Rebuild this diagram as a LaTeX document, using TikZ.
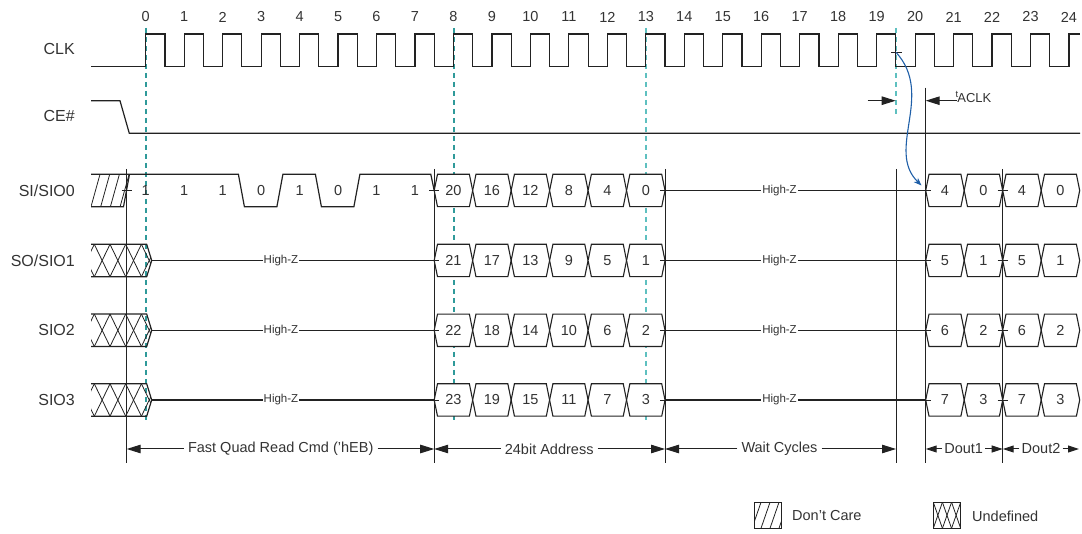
\documentclass[tikz,border=0pt]{standalone}
\usepackage{fontspec}
\setmainfont{Liberation Sans}
\usetikzlibrary{arrows.meta}
\definecolor{tealA}{HTML}{2F9A9A}
\definecolor{tealB}{HTML}{5EC0C0}
\definecolor{arcblue}{HTML}{1F5FA8}
\definecolor{ink}{HTML}{222222}
\definecolor{txt}{HTML}{333333}
\newcommand\nfnt{\fontsize{14.5}{16}\selectfont}
\newcommand\lfnt{\fontsize{16}{18}\selectfont}
\newcommand\hfnt{\fontsize{11.5}{13}\selectfont}
\begin{document}
\begin{tikzpicture}[x=1pt,y=-1pt,
  sig/.style={draw=ink,line width=1.2pt,line join=miter},
  bus/.style={draw=ink,line width=1.1pt,fill=white},
  thin/.style={draw=ink,line width=0.8pt},
  vline/.style={draw=ink,line width=0.9pt},
  dashA/.style={draw=tealA,dash pattern=on 5pt off 4pt,line width=1.6pt},
  dashB/.style={draw=tealB,dash pattern=on 5pt off 4pt,line width=1.7pt},
  lbl/.style={font=\lfnt,text=txt,anchor=east,inner sep=0pt},
  num/.style={font=\nfnt,text=txt,inner sep=0pt},
  hz/.style={font=\hfnt,text=txt,fill=white,inner sep=1pt},
  dimt/.style={font=\nfnt,text=txt,inner sep=4pt},
  dim/.style={draw=ink,line width=1pt,-{Triangle[length=14pt,width=8.5pt]}},
  dims/.style={draw=ink,line width=1pt,-{Triangle[length=11pt,width=7pt]}}
]
\useasboundingbox (0,0) rectangle (1082,534);

% ---- signal names
\node[lbl] (nCLK) at (75,49.3) {CLK};
\node[lbl] (nCE) at (75,116) {CE\#};
\node[lbl] (nS0) at (75,191) {SI/SIO0};
\node[lbl] (nS1) at (75,260.5) {SO/SIO1};
\node[lbl] (nS2) at (75,330.3) {SIO2};
\node[lbl] (nS3) at (75,400) {SIO3};

% ---- cycle numbers
\foreach \k in {0,...,24}
  \node[num] (c\k) at ({145.7+38.47*\k},17) {\k};

% ---- dashed reference lines
\draw[dashA] (145.7,28) -- (145.7,423);
\draw[dashA] (453.7,28) -- (453.7,423);
\draw[dashB] (646,28) -- (646,423);
\draw[dashB] (896,28) -- (896,115);

% ---- solid vertical lines
\foreach \x in {126.7,434.2,665,896,1002.7}
  \draw[vline] (\x,169) -- (\x,463);
\draw[vline] (925.7,87.7) -- (925.7,463);

% ---- CLK
\draw[sig] (91,66.7) foreach \k in {0,...,23} {
   -- ({145.7+38.47*\k},66.7) -- ({145.7+38.47*\k},34)
   -- ({164.93+38.47*\k},34) -- ({164.93+38.47*\k},66.7) }
   -- (1069,66.7) -- (1069,34) -- (1080,34);

% ---- CE#
\draw[sig] (91,100.7) -- (120,100.7) -- (129.3,133.3) -- (1080,133.3);

% ---- SI/SIO0 don't care
\begin{scope}
  \clip (91,174.3) -- (129.5,174.3) -- (123.5,206.7) -- (91,206.7) -- cycle;
  \foreach \i in {-1,...,4}
    \draw[thin] ({91+9.7*\i},206.7) -- ({100+9.7*\i},174.3);
\end{scope}
\draw[sig] (91,206.7) -- (123.5,206.7) -- (129.5,174.3);
% command waveform 'hEB
\draw[sig] (91,174.3) -- (238.4,174.3) -- (244.4,206.7) -- (276.9,206.7)
  -- (282.9,174.3) -- (315.4,174.3) -- (321.4,206.7) -- (353.9,206.7)
  -- (359.9,174.3) -- (430.8,174.3) -- (434.2,190.5);
\foreach \k/\b in {0/1,1/1,2/1,3/0,4/1,5/0,6/1,7/1}
  \node[num] (b\k) at ({145.7+38.47*\k},190.5) {\b};
\draw[thin] (121.5,190.5) -- (131.5,190.5);

% ---- undefined regions on SIO1..3
\foreach \r/\ym in {1/260.5,2/330.3,3/400} {
  \begin{scope}
    \clip (91,{\ym-16.2}) -- (146.7,{\ym-16.2}) -- (151.7,\ym) -- (146.7,{\ym+16.2}) -- (91,{\ym+16.2}) -- cycle;
    \foreach \i in {-1,...,4} {
      \draw[thin] ({94.3+15.7*\i},{\ym-16.2}) -- ({110+15.7*\i},{\ym+16.2});
      \draw[thin] ({110+15.7*\i},{\ym-16.2}) -- ({94.3+15.7*\i},{\ym+16.2});
    }
  \end{scope}
  \draw[sig] (91,{\ym-16.2}) -- (146.7,{\ym-16.2}) -- (151.7,\ym) -- (146.7,{\ym+16.2}) -- (91,{\ym+16.2});
  \draw[sig] (151.7,\ym) -- (434.2,\ym);
  \node[hz] (hza\r) at (281,\ym) {High-Z};
}

% ---- wait cycles high-Z
\foreach \r/\ym in {0/190.5,1/260.5,2/330.3,3/400} {
  \draw[sig] (665,\ym) -- (925.7,\ym);
  \node[hz] (hzb\r) at (779.5,\ym) {High-Z};
}

% ---- address nibbles
\foreach \r/\ym in {0/190.5,1/260.5,2/330.3,3/400} {
  \foreach \j in {0,...,5} {
    \pgfmathsetmacro\xa{434.2+38.47*\j}
    \pgfmathsetmacro\xb{\xa+38.47}
    \pgfmathtruncatemacro\v{20+\r-4*\j}
    \draw[bus] (\xa,\ym) -- ({\xa+3.3},{\ym-16.2}) -- ({\xb-3.3},{\ym-16.2}) -- (\xb,\ym)
       -- ({\xb-3.3},{\ym+16.2}) -- ({\xa+3.3},{\ym+16.2}) -- cycle;
    \node[num] (a\r\j) at ({(\xa+\xb)/2},\ym) {\v};
  }
  % data out
  \foreach \j/\w in {0/4,1/0,2/4,3/0} {
    \pgfmathsetmacro\xa{925.7+38.5*\j}
    \pgfmathsetmacro\xb{\xa+38.5}
    \pgfmathtruncatemacro\v{\w+\r}
    \draw[bus] (\xa,\ym) -- ({\xa+3.3},{\ym-16.2}) -- ({\xb-3.3},{\ym-16.2}) -- (\xb,\ym)
       -- ({\xb-3.3},{\ym+16.2}) -- ({\xa+3.3},{\ym+16.2}) -- cycle;
    \node[num] (o\r\j) at ({(\xa+\xb)/2},\ym) {\v};
  }
  \foreach \x in {434.2,665,925.7,1002.7}
    \draw[thin] ({\x-5},\ym) -- ({\x+5},\ym);
}

% ---- tACLK
\coordinate (fe19) at (896,52.3);
\draw[thin] (891,52.3) -- (901.7,52.3);
\coordinate (d0) at (921.5,185.5);
\draw[arcblue,line width=1.1pt,-{Stealth[length=8pt,width=6pt]}]
  (fe19) .. controls (935,95) and (885,150) .. (d0);
\coordinate (tA1) at (867.7,100.7);
\coordinate (tA2) at (895.7,100.7);
\coordinate (tB1) at (956.7,100.7);
\coordinate (tB2) at (925.7,100.7);
\draw[dim] (tA1) -- (tA2);
\draw[dim] (tB1) -- (tB2);
\node[anchor=west,inner sep=0pt,text=txt,font=\fontsize{13}{14}\selectfont] (tacl) at (955.5,97)
  {\raisebox{4.5pt}{\fontsize{9.5}{10}\selectfont t}\kern-1pt ACLK};

% ---- dimension arrows
\coordinate (p0) at (126.7,449);
\coordinate (p1) at (434.2,449);
\coordinate (p2) at (665,449);
\coordinate (p3) at (896,449);
\coordinate (p4) at (925.7,449);
\coordinate (p5) at (1002.7,449);
\coordinate (p6) at (1079,449);
\node[dimt] (m1) at (280.7,449) {Fast Quad Read Cmd (’hEB)};
\draw[dim] (m1.west) -- (p0); \draw[dim] (m1.east) -- (p1);
\node[dimt] (m2) at (549.2,449) {24bit Address};
\draw[dim] (m2.west) -- (p1); \draw[dim] (m2.east) -- (p2);
\node[dimt] (m3) at (779.5,449) {Wait Cycles};
\draw[dim] (m3.west) -- (p2); \draw[dim] (m3.east) -- (p3);
\node[dimt,inner sep=2pt] (m4) at (963.7,449) {Dout1};
\draw[dims] (m4.west) -- (p4); \draw[dims] (m4.east) -- (p5);
\node[dimt,inner sep=2pt] (m5) at (1041,449) {Dout2};
\draw[dims] (m5.west) -- (p5); \draw[dims] (m5.east) -- (p6);

% ---- legend
\begin{scope}
  \clip (754.3,502.3) rectangle (781,528.3);
  \foreach \i in {-1,...,3}
    \draw[thin] ({752+9*\i},528.3) -- ({761+9*\i},502.3);
\end{scope}
\draw[thin] (754.3,502.3) rectangle (781,528.3);
\node[anchor=west,inner sep=0pt,font=\nfnt,text=txt] (lg1) at (792,516) {Don’t Care};
\begin{scope}
  \clip (933.3,502.3) rectangle (960.7,528.3);
  \foreach \i in {-1,...,3} {
    \draw[thin] ({933.3+9.13*\i},502.3) -- ({942.4+9.13*\i},528.3);
    \draw[thin] ({942.4+9.13*\i},502.3) -- ({933.3+9.13*\i},528.3);
  }
\end{scope}
\draw[thin] (933.3,502.3) rectangle (960.7,528.3);
\node[anchor=west,inner sep=0pt,font=\nfnt,text=txt] (lg2) at (972,516) {Undefined};
\end{tikzpicture}
\end{document}
